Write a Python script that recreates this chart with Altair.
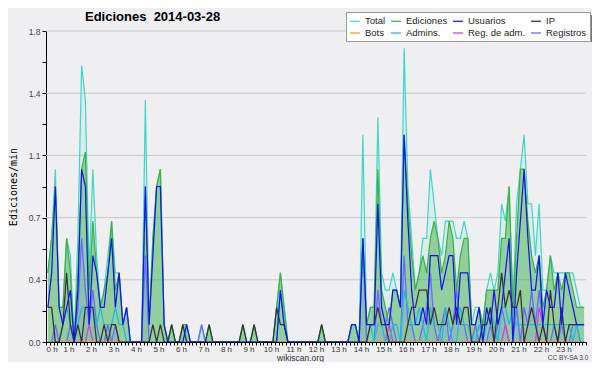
import altair as alt
import pandas as pd

# ---- data: 10-minute buckets, edits per minute ----
series_names = ["Total", "Ediciones", "Usuarios", "IP", "Bots", "Admins.", "Reg. de adm.", "Registros"]
series_colors = ["#3fd6c6", "#3cb043", "#1414ee", "#333333", "#f0a030", "#22bbdd", "#cc44dd", "#6a6aff"]

total = [
    0.4, 0.6, 1.0, 0.2, 0.2, 0.6,   0.5, 0.0, 0.6, 1.6, 1.4, 0.4,
    1.0, 0.5, 0.2, 0.3, 0.5, 0.7,   0.4, 0.4, 0.1, 0.2, 0.0, 0.0,
    0.0, 0.0, 1.4, 0.1, 0.6, 0.9,   1.0, 0.1, 0.0, 0.1, 0.0, 0.0,
    0.1, 0.1, 0.0, 0.0, 0.0, 0.1,   0.0, 0.1, 0.0, 0.0, 0.0, 0.0,
    0.0, 0.0, 0.0, 0.0, 0.1, 0.0,   0.0, 0.1, 0.0, 0.0, 0.0, 0.0,
    0.0, 0.2, 0.4, 0.2, 0.0, 0.0,   0.0, 0.0, 0.0, 0.0, 0.0, 0.0,
    0.0, 0.1, 0.0, 0.0, 0.0, 0.0,   0.0, 0.0, 0.0, 0.1, 0.1, 0.0,
    1.2, 0.1, 0.2, 0.2, 1.3, 0.4,   0.3, 0.3, 0.4, 0.3, 0.2, 1.7,
    0.9, 0.6, 0.3, 0.4, 0.6, 0.6,   1.0, 0.8, 0.6, 0.5, 0.7, 0.7,
    0.7, 0.6, 0.6, 0.7, 0.6, 0.1,   0.2, 0.2, 0.1, 0.3, 0.4, 0.3,
    0.4, 0.8, 0.7, 0.9, 0.2, 0.8,   1.0, 1.2, 0.8, 0.8, 0.5, 0.8,
    0.3, 0.3, 0.5, 0.4, 0.4, 0.4,   0.4, 0.4, 0.4, 0.3, 0.2, 0.2,
]
ediciones = [
    0.4, 0.6, 0.9, 0.2, 0.2, 0.6,   0.4, 0.0, 0.4, 1.0, 1.1, 0.3,
    0.7, 0.4, 0.2, 0.3, 0.4, 0.7,   0.3, 0.4, 0.1, 0.2, 0.0, 0.0,
    0.0, 0.0, 0.9, 0.1, 0.6, 0.9,   1.0, 0.1, 0.0, 0.1, 0.0, 0.0,
    0.1, 0.1, 0.0, 0.0, 0.0, 0.0,   0.0, 0.1, 0.0, 0.0, 0.0, 0.0,
    0.0, 0.0, 0.0, 0.0, 0.1, 0.0,   0.0, 0.1, 0.0, 0.0, 0.0, 0.0,
    0.0, 0.2, 0.4, 0.2, 0.0, 0.0,   0.0, 0.0, 0.0, 0.0, 0.0, 0.0,
    0.0, 0.1, 0.0, 0.0, 0.0, 0.0,   0.0, 0.0, 0.0, 0.1, 0.1, 0.0,
    0.6, 0.1, 0.2, 0.2, 1.0, 0.3,   0.2, 0.1, 0.3, 0.3, 0.2, 1.2,
    0.8, 0.5, 0.3, 0.4, 0.5, 0.4,   0.6, 0.7, 0.6, 0.4, 0.5, 0.7,
    0.6, 0.3, 0.5, 0.6, 0.6, 0.1,   0.1, 0.2, 0.1, 0.3, 0.3, 0.3,
    0.3, 0.6, 0.6, 0.9, 0.2, 0.6,   1.0, 1.0, 0.7, 0.5, 0.4, 0.5,
    0.2, 0.3, 0.5, 0.3, 0.4, 0.3,   0.4, 0.4, 0.3, 0.2, 0.2, 0.2,
]
usuarios = [
    0.2, 0.4, 0.9, 0.2, 0.1, 0.2,   0.3, 0.0, 0.3, 1.0, 0.9, 0.1,
    0.5, 0.4, 0.2, 0.2, 0.4, 0.6,   0.2, 0.4, 0.1, 0.2, 0.0, 0.0,
    0.0, 0.0, 0.9, 0.1, 0.5, 0.9,   0.9, 0.1, 0.0, 0.0, 0.0, 0.0,
    0.0, 0.1, 0.0, 0.0, 0.0, 0.0,   0.0, 0.0, 0.0, 0.0, 0.0, 0.0,
    0.0, 0.0, 0.0, 0.0, 0.0, 0.0,   0.0, 0.0, 0.0, 0.0, 0.0, 0.0,
    0.0, 0.0, 0.3, 0.1, 0.0, 0.0,   0.0, 0.0, 0.0, 0.0, 0.0, 0.0,
    0.0, 0.0, 0.0, 0.0, 0.0, 0.0,   0.0, 0.0, 0.0, 0.1, 0.1, 0.0,
    0.6, 0.1, 0.1, 0.1, 0.8, 0.2,   0.1, 0.1, 0.3, 0.3, 0.2, 1.2,
    0.7, 0.3, 0.1, 0.1, 0.2, 0.1,   0.5, 0.5, 0.5, 0.3, 0.4, 0.5,
    0.5, 0.1, 0.4, 0.4, 0.4, 0.1,   0.1, 0.2, 0.0, 0.2, 0.1, 0.3,
    0.1, 0.2, 0.4, 0.6, 0.0, 0.4,   0.7, 1.0, 0.6, 0.3, 0.3, 0.5,
    0.1, 0.3, 0.2, 0.2, 0.4, 0.1,   0.4, 0.3, 0.2, 0.1, 0.1, 0.1,
]
ip = [
    0.2, 0.2, 0.0, 0.0, 0.1, 0.4,   0.1, 0.0, 0.1, 0.0, 0.2, 0.2,
    0.2, 0.0, 0.0, 0.1, 0.0, 0.1,   0.1, 0.0, 0.0, 0.0, 0.0, 0.0,
    0.0, 0.0, 0.0, 0.0, 0.1, 0.0,   0.1, 0.0, 0.0, 0.1, 0.0, 0.0,
    0.1, 0.0, 0.0, 0.0, 0.0, 0.0,   0.0, 0.1, 0.0, 0.0, 0.0, 0.0,
    0.0, 0.0, 0.0, 0.0, 0.1, 0.0,   0.0, 0.1, 0.0, 0.0, 0.0, 0.0,
    0.0, 0.2, 0.1, 0.1, 0.0, 0.0,   0.0, 0.0, 0.0, 0.0, 0.0, 0.0,
    0.0, 0.1, 0.0, 0.0, 0.0, 0.0,   0.0, 0.0, 0.0, 0.0, 0.0, 0.0,
    0.0, 0.0, 0.1, 0.1, 0.2, 0.1,   0.1, 0.0, 0.0, 0.0, 0.0, 0.0,
    0.1, 0.2, 0.2, 0.3, 0.3, 0.3,   0.1, 0.2, 0.1, 0.1, 0.1, 0.2,
    0.1, 0.2, 0.1, 0.2, 0.2, 0.0,   0.0, 0.0, 0.1, 0.1, 0.2, 0.0,
    0.2, 0.4, 0.2, 0.3, 0.2, 0.2,   0.3, 0.0, 0.1, 0.2, 0.1, 0.0,
    0.1, 0.0, 0.3, 0.1, 0.0, 0.2,   0.0, 0.1, 0.1, 0.1, 0.1, 0.1,
]
bots = [0.0] * 144
admins = [
    0.0, 0.0, 0.0, 0.0, 0.1, 0.2,   0.1, 0.0, 0.1, 0.2, 0.2, 0.2,
    0.2, 0.1, 0.2, 0.1, 0.1, 0.1,   0.2, 0.1, 0.1, 0.0, 0.0, 0.0,
    0.0, 0.0, 0.0, 0.0, 0.0, 0.0,   0.0, 0.0, 0.0, 0.0, 0.0, 0.0,
    0.0, 0.0, 0.0, 0.0, 0.0, 0.0,   0.0, 0.0, 0.0, 0.0, 0.0, 0.0,
    0.0, 0.0, 0.0, 0.0, 0.0, 0.0,   0.0, 0.0, 0.0, 0.0, 0.0, 0.0,
    0.0, 0.0, 0.3, 0.1, 0.0, 0.0,   0.0, 0.0, 0.0, 0.0, 0.0, 0.0,
    0.0, 0.0, 0.0, 0.0, 0.0, 0.0,   0.0, 0.0, 0.0, 0.0, 0.0, 0.0,
    0.0, 0.0, 0.1, 0.0, 0.1, 0.1,   0.0, 0.0, 0.1, 0.1, 0.0, 0.3,
    0.2, 0.1, 0.1, 0.2, 0.1, 0.0,   0.2, 0.1, 0.1, 0.0, 0.2, 0.1,
    0.0, 0.0, 0.2, 0.1, 0.1, 0.0,   0.0, 0.1, 0.0, 0.1, 0.2, 0.1,
    0.0, 0.2, 0.2, 0.1, 0.2, 0.1,   0.1, 0.1, 0.1, 0.1, 0.1, 0.1,
    0.1, 0.1, 0.1, 0.1, 0.1, 0.1,   0.1, 0.1, 0.0, 0.1, 0.0, 0.0,
]
reg_adm = [0.0] * 144
for _i, _v in [(11, 0.1), (91, 0.1), (122, 0.1), (131, 0.2), (132, 0.1)]:
    reg_adm[_i] = _v
registros = [
    0.0, 0.0, 0.1, 0.0, 0.0, 0.0,   0.1, 0.0, 0.2, 0.6, 0.3, 0.1,
    0.3, 0.1, 0.0, 0.0, 0.1, 0.0,   0.1, 0.0, 0.0, 0.0, 0.0, 0.0,
    0.0, 0.0, 0.5, 0.0, 0.0, 0.0,   0.0, 0.0, 0.0, 0.0, 0.0, 0.0,
    0.0, 0.0, 0.0, 0.0, 0.0, 0.1,   0.0, 0.0, 0.0, 0.0, 0.0, 0.0,
    0.0, 0.0, 0.0, 0.0, 0.0, 0.0,   0.0, 0.0, 0.0, 0.0, 0.0, 0.0,
    0.0, 0.0, 0.0, 0.0, 0.0, 0.0,   0.0, 0.0, 0.0, 0.0, 0.0, 0.0,
    0.0, 0.0, 0.0, 0.0, 0.0, 0.0,   0.0, 0.0, 0.0, 0.0, 0.0, 0.0,
    0.6, 0.0, 0.0, 0.0, 0.3, 0.1,   0.1, 0.2, 0.1, 0.0, 0.0, 0.5,
    0.1, 0.1, 0.0, 0.0, 0.1, 0.2,   0.4, 0.1, 0.0, 0.1, 0.2, 0.0,
    0.1, 0.3, 0.1, 0.1, 0.0, 0.0,   0.1, 0.0, 0.0, 0.0, 0.1, 0.0,
    0.1, 0.2, 0.1, 0.0, 0.0, 0.2,   0.0, 0.2, 0.1, 0.3, 0.1, 0.3,
    0.1, 0.0, 0.0, 0.1, 0.0, 0.1,   0.0, 0.0, 0.1, 0.1, 0.0, 0.0,
]

grid_values = [0.36, 0.72, 1.08, 1.44, 1.8]
x_tick_values = [i / 6 for i in range(145)]
y_tick_values = [round(k * 0.18, 2) for k in range(11)]
title_text = "Ediciones\u00a0 2014-03-28"
y_title = "Ediciones/min"
footer_site = "wikiscan.org"
footer_license = "CC BY-SA 3.0"

# ---- long table ----
values_by_series = {
    "Total": total, "Ediciones": ediciones, "Usuarios": usuarios, "IP": ip,
    "Bots": bots, "Admins.": admins, "Reg. de adm.": reg_adm, "Registros": registros,
}
draw_order = ["Total", "Registros", "Reg. de adm.", "Bots", "Admins.", "Ediciones", "IP", "Usuarios"]
rows = []
for name in draw_order:
    for i, v in enumerate(values_by_series[name]):
        rows.append({"series": name, "t": (i + 0.5) / 6, "v": v})
df = pd.DataFrame(rows)

FONT = "Liberation Sans"
PLOT_H = 311

x_axis = alt.Axis(
    values=x_tick_values,
    labelExpr="datum.value % 1 == 0 && datum.value < 24 ? datum.value + ' h' : ''",
    labelOverlap=False, labelFont=FONT, labelFontSize=8, labelColor="#333333",
    labelPadding=0, tickSize=3, tickColor="black", domainColor="black", grid=False,
    title=footer_site, titleFont=FONT, titleFontSize=8.5, titleFontWeight="normal",
    titleColor="#333333", titleX=254, titleY=15.5, titleBaseline="middle", titleAlign="center",
)
y_axis = alt.Axis(
    values=y_tick_values,
    labelExpr="round(datum.value*100) % 36 == 0 ? format(datum.value, '.1f') : ''",
    labelOverlap=False, labelFont=FONT, labelFontSize=8.5, labelColor="#444444",
    labelPadding=2, tickSize=4, tickColor="black", domainColor="black", grid=False,
    title=y_title, titleFont="DejaVu Sans Mono", titleFontSize=10, titleFontWeight="normal",
    titleColor="black", titleX=-33, titleY=PLOT_H / 2, titleAngle=270, titleAlign="center",
    titleBaseline="middle",
)
x_scale = alt.Scale(domain=[0, 24], nice=False, zero=False)
y_scale = alt.Scale(domain=[0, 1.8], nice=False)

X = alt.X("t:Q", scale=x_scale, axis=x_axis)
Y = alt.Y("v:Q", scale=y_scale, axis=y_axis)

grid = alt.Chart(pd.DataFrame({"g": grid_values})).mark_rule(color="#c8c8c8", strokeWidth=1).encode(
    y=alt.Y("g:Q", scale=y_scale, axis=y_axis)
)

total_area = alt.Chart(df).transform_filter(alt.datum.series == "Total").mark_area(
    color="#3fd6c6", opacity=0.12, clip=True
).encode(x=X, y=Y)

ed_area = alt.Chart(df).transform_filter(alt.datum.series == "Ediciones").mark_area(
    color="#4caf50", opacity=0.5, clip=True
).encode(x=X, y=Y)

reg_area = alt.Chart(df).transform_filter(alt.datum.series == "Registros").mark_area(
    color="#6a6aff", opacity=0.12, clip=True
).encode(x=X, y=Y)

shadow = alt.Chart(pd.DataFrame({"s": [0]})).mark_rect(color="#777777").encode(
    x=alt.value(303), x2=alt.value(549), y=alt.value(-16), y2=alt.value(11)
)

lines = alt.Chart(df).mark_line(clip=True).encode(
    x=X, y=Y,
    color=alt.Color(
        "series:N",
        scale=alt.Scale(domain=series_names, range=series_colors),
        legend=alt.Legend(
            title=None, orient="none", legendX=300, legendY=-19, columns=4,
            direction="horizontal",
            symbolType="stroke", symbolSize=100, symbolStrokeWidth=1.5,
            labelFont=FONT, labelFontSize=9.5, labelColor="#222222", labelOffset=4,
            fillColor="white", strokeColor="#999999", padding=3,
            rowPadding=1, columnPadding=2,
        ),
    ),
    strokeWidth=alt.StrokeWidth(
        "series:N",
        scale=alt.Scale(domain=series_names, range=[1.2, 1.3, 1.4, 1.1, 1, 1, 1, 1]),
        legend=None,
    ),
)

title_mark = alt.Chart(pd.DataFrame({"txt": [title_text]})).mark_text(
    font=FONT, fontSize=13, fontWeight="bold", color="black", align="left", baseline="alphabetic"
).encode(text="txt:N", x=alt.value(39), y=alt.value(-10))

cc = alt.Chart(pd.DataFrame({"txt": [footer_license]})).mark_text(
    font=FONT, fontSize=6.5, color="#444444", align="center", baseline="middle"
).encode(text="txt:N", x=alt.value(522), y=alt.value(PLOT_H + 15.5))

chart = alt.layer(grid, total_area, ed_area, reg_area, shadow, lines, title_mark, cc).properties(
    width=540, height=PLOT_H,
    autosize=alt.AutoSizeParams(type="none"),
    padding={"left": 38, "top": 23, "right": 6, "bottom": 20},
).configure(background="#efeff1").configure_view(stroke=None)

chart.save("out.html", embed_options={"renderer": "svg", "actions": False})
